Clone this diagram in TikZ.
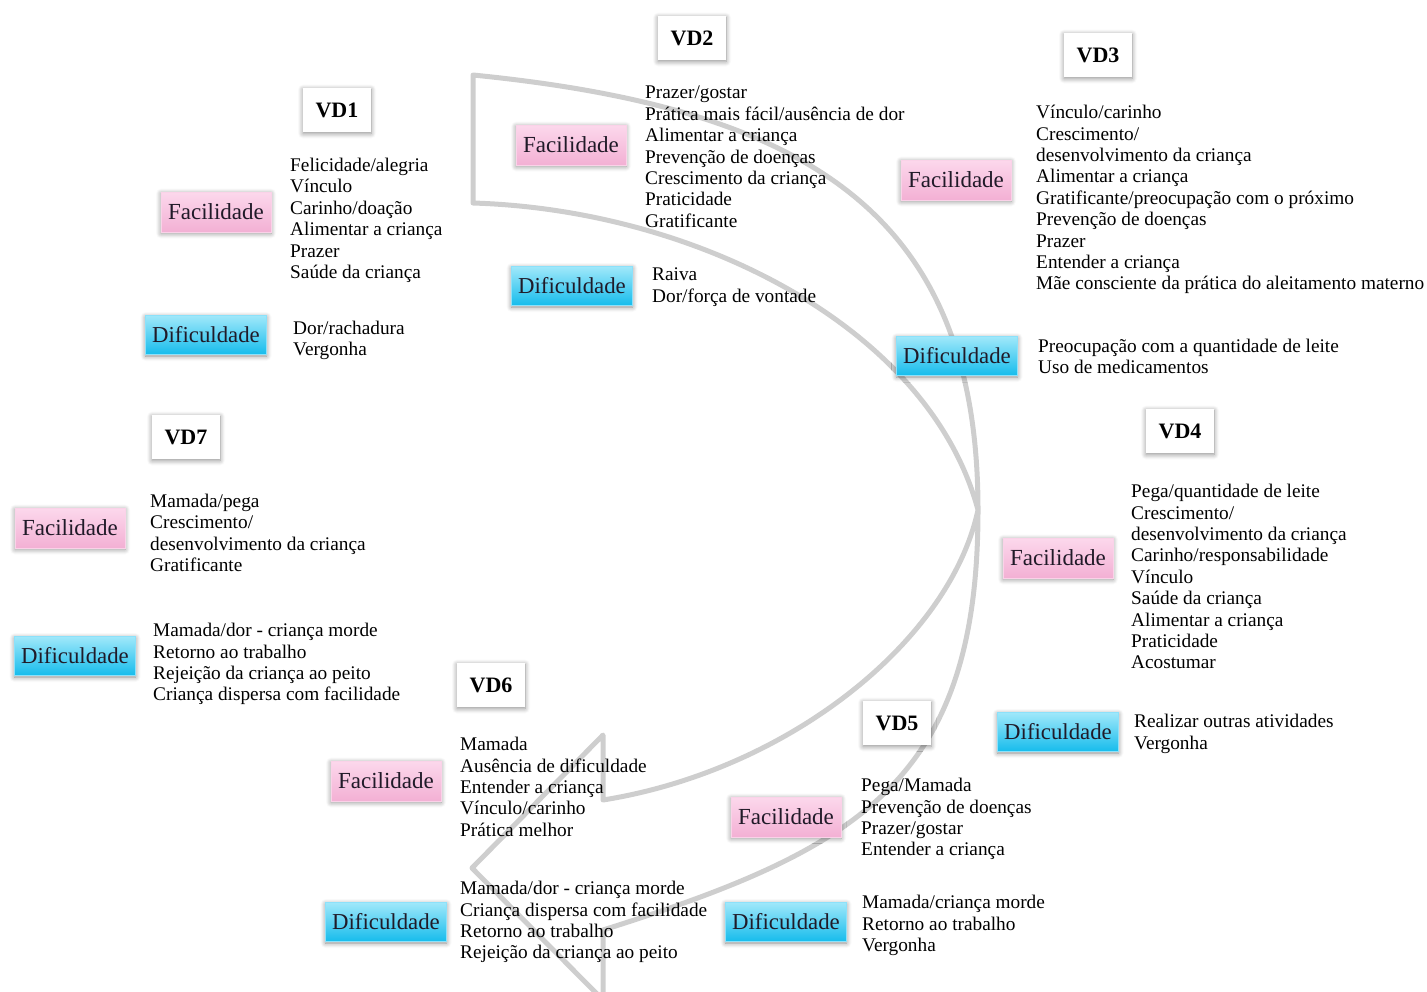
\documentclass[tikz,border=0pt]{standalone}
\usepackage{fontspec}
\setmainfont{Liberation Serif}
\usetikzlibrary{shadows.blur}

\definecolor{bandgray}{RGB}{206,206,206}
\definecolor{inkdark}{RGB}{32,26,40}
\definecolor{pinktop}{RGB}{252,216,236}
\definecolor{pinkbot}{RGB}{243,176,212}
\definecolor{pinkedge}{RGB}{250,210,232}
\definecolor{cyantop}{RGB}{160,232,250}
\definecolor{cyanbot}{RGB}{22,188,236}
\definecolor{cyanedge}{RGB}{140,225,250}

\tikzset{
  softshadow/.style={blur shadow={shadow xshift=0pt, shadow yshift=-1.5pt,
      shadow blur radius=5pt, shadow blur steps=6, shadow opacity=45}},
  vdbox/.style={fill=white, softshadow, minimum width=68pt, minimum height=44pt,
      inner sep=0pt, text=black, font=\fontsize{22}{24}\selectfont\bfseries},
  facbox/.style={top color=pinktop, bottom color=pinkbot, draw=pinkedge, line width=0.8pt,
      softshadow, minimum width=110pt, minimum height=40pt, inner sep=0pt,
      text=inkdark, font=\fontsize{23}{24}\selectfont},
  difbox/.style={top color=cyantop, bottom color=cyanbot, draw=cyanedge, line width=0.8pt,
      softshadow, minimum width=121pt, minimum height=39pt, inner sep=0pt,
      text=inkdark, font=\fontsize{22.8}{24}\selectfont},
  itemlist/.style={anchor=north west, align=left, inner sep=0pt, text=black,
      font=\fontsize{19.3}{21.4}\selectfont,
      execute at begin node={\rule{0pt}{17pt}}},
  band/.style={draw=bandgray, line width=5pt, line join=round, line cap=round}
}

\begin{document}
\begin{tikzpicture}[x=1pt, y=-1pt]
\useasboundingbox (0,0) rectangle (1427,991);

% curved band arrow in the background
\begin{scope}
\clip (0,0) rectangle (1427,991);
\coordinate (topL) at (473,75);
\coordinate (botL) at (473,203);
\coordinate (rim) at (978,510);
\coordinate (innerB) at (603,800);
\coordinate (barbU) at (603,735);
\coordinate (tip) at (472,868);
\coordinate (barbL) at (603,1000);
\coordinate (outerB) at (603,930);
\draw[band] (topL) -- (botL)
  .. controls (700,210) and (930,330) .. (rim)
  .. controls (950,640) and (790,770) .. (innerB)
  -- (barbU) -- (tip) -- (barbL) -- (outerB)
  .. controls (860,849) and (978,780) .. (rim)
  .. controls (978,210) and (803,108) .. (topL) -- cycle;
\end{scope}

% group titles
\node[vdbox] (vd1) at (337,110) {VD1};
\node[vdbox] (vd2) at (692,38) {VD2};
\node[vdbox] (vd3) at (1098,55) {VD3};
\node[vdbox] (vd4) at (1180,431) {VD4};
\node[vdbox] (vd5) at (897,723) {VD5};
\node[vdbox] (vd6) at (491,685) {VD6};
\node[vdbox] (vd7) at (186,437) {VD7};

% Facilidade labels
\node[facbox] (fac1) at (216,212) {Facilidade};
\node[facbox] (fac2) at (571,145) {Facilidade};
\node[facbox] (fac3) at (956,180) {Facilidade};
\node[facbox] (fac4) at (1058,558) {Facilidade};
\node[facbox] (fac5) at (786,817) {Facilidade};
\node[facbox] (fac6) at (386,781) {Facilidade};
\node[facbox] (fac7) at (70,528) {Facilidade};

% Dificuldade labels
\node[difbox] (dif1) at (206,335) {Dificuldade};
\node[difbox] (dif2) at (572,286) {Dificuldade};
\node[difbox] (dif3) at (957,356) {Dificuldade};
\node[difbox] (dif4) at (1058,732) {Dificuldade};
\node[difbox] (dif5) at (786,922) {Dificuldade};
\node[difbox] (dif6) at (386,922) {Dificuldade};
\node[difbox] (dif7) at (75,656) {Dificuldade};

% item lists (north = first baseline - 17pt)
\node[itemlist] (lfac1) at (290,158) {Felicidade/alegria\\Vínculo\\Carinho/doação\\Alimentar a criança\\Prazer\\Saúde da criança};
\node[itemlist] (ldif1) at (293,321) {Dor/rachadura\\Vergonha};

\node[itemlist] (lfac2) at (645,86) {Prazer/gostar\\Prática mais fácil/ausência de dor\\Alimentar a criança\\Prevenção de doenças\\Crescimento da criança\\Praticidade\\Gratificante};
\node[itemlist] (ldif2) at (652,268) {Raiva\\Dor/força de vontade};

\node[itemlist] (lfac3) at (1036,105) {Vínculo/carinho\\Crescimento/\\desenvolvimento da criança\\Alimentar a criança\\Gratificante/preocupação com o próximo\\Prevenção de doenças\\Prazer\\Entender a criança\\Mãe consciente da prática do aleitamento materno};
\node[itemlist] (ldif3) at (1038,339) {Preocupação com a quantidade de leite\\Uso de medicamentos};

\node[itemlist] (lfac4) at (1131,484) {Pega/quantidade de leite\\Crescimento/\\desenvolvimento da criança\\Carinho/responsabilidade\\Vínculo\\Saúde da criança\\Alimentar a criança\\Praticidade\\Acostumar};
\node[itemlist] (ldif4) at (1134,714) {Realizar outras atividades\\Vergonha};

\node[itemlist] (lfac5) at (861,778) {Pega/Mamada\\Prevenção de doenças\\Prazer/gostar\\Entender a criança};
\node[itemlist] (ldif5) at (862,895) {Mamada/criança morde\\Retorno ao trabalho\\Vergonha};

\node[itemlist] (lfac6) at (460,737) {Mamada\\Ausência de dificuldade\\Entender a criança\\Vínculo/carinho\\Prática melhor};
\node[itemlist] (ldif6) at (460,881) {Mamada/dor - criança morde\\Criança dispersa com facilidade\\Retorno ao trabalho\\Rejeição da criança ao peito};

\node[itemlist] (lfac7) at (150,494) {Mamada/pega\\Crescimento/\\desenvolvimento da criança\\Gratificante};
\node[itemlist] (ldif7) at (153,623) {Mamada/dor - criança morde\\Retorno ao trabalho\\Rejeição da criança ao peito\\Criança dispersa com facilidade};
\end{tikzpicture}
\end{document}
